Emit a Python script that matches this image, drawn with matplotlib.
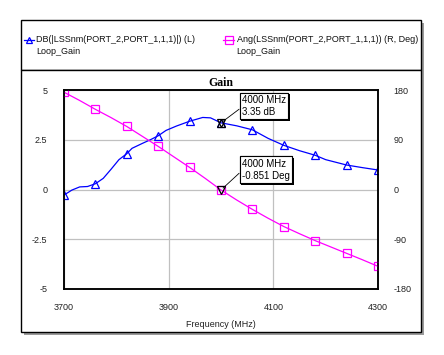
import numpy as np
import matplotlib
matplotlib.use('Agg')
import matplotlib.pyplot as plt
from matplotlib.patches import Rectangle
from matplotlib.lines import Line2D
import matplotlib.patheffects as pe

# gain curve, dB (left axis)
freq_db = [3700, 3715, 3730, 3745, 3760, 3775, 3790, 3805, 3820, 3830, 3850, 3865,
           3880, 3895, 3915, 3940, 3965, 3980, 4000, 4030, 4060, 4090, 4120, 4150,
           4180, 4200, 4240, 4270, 4300]
gain_db = [-0.28, -0.03, 0.13, 0.15, 0.29, 0.56, 1.02, 1.50, 1.80, 2.07, 2.32, 2.50,
           2.70, 2.97, 3.19, 3.43, 3.62, 3.60, 3.35, 3.20, 3.00, 2.57, 2.22, 1.95,
           1.72, 1.50, 1.23, 1.10, 0.98]

# phase curve, deg (right axis)
freq_ang = [3700, 3730, 3760, 3790, 3820, 3850, 3880, 3910, 3940, 3970, 4000,
            4030, 4060, 4090, 4120, 4150, 4180, 4210, 4240, 4270, 4300]
phase_deg = [176, 161, 145, 130, 114, 96, 78, 59, 40, 20, -0.851,
             -19, -36, -52, -67, -80, -92.5, -104, -115.5, -127, -139]

marker_freqs = [3700, 3760, 3820, 3880, 3940, 4000, 4060, 4120, 4180, 4240, 4300]
xticks = [3700, 3900, 4100, 4300]
yticks_l = [-5, -2.5, 0, 2.5, 5]
yticks_r = [-180, -90, 0, 90, 180]

cursor_f = 4000
cursor_db = 3.35
cursor_deg = -0.851

W, H = 444, 355
plt.rcParams['font.family'] = ['Liberation Sans', 'DejaVu Sans']
plt.rcParams['axes.unicode_minus'] = False


def fx(px):
    return px / W


def fy(py):
    return 1 - py / H


def box(fig, x0, y0, x1, y1):
    # framed panel with a grey drop shadow
    fig.add_artist(Rectangle((fx(x0 + 3), fy(y1 + 3)), fx(x1 - x0), (y1 - y0) / H,
                             transform=fig.transFigure, facecolor='#9a9a9a',
                             edgecolor='none', zorder=0))
    fig.add_artist(Rectangle((fx(x0), fy(y1)), fx(x1 - x0), (y1 - y0) / H,
                             transform=fig.transFigure, facecolor='white',
                             edgecolor='black', lw=1.0, zorder=0.5))


fig = plt.figure(figsize=(W / 100, H / 100), dpi=100)
box(fig, 21, 20, 421, 70)
box(fig, 21, 70, 421, 332)

ax = fig.add_axes([fx(64), fy(289), fx(378 - 64), (289 - 90) / H])
ax2 = ax.twinx()
ax.set_zorder(2)
ax2.set_zorder(3)
ax.patch.set_visible(False)
ax2.patch.set_visible(False)

blue = '#0000ff'
mag = '#ff00ff'

fd = np.array(freq_db)
fa = np.array(freq_ang)
ax.plot(fd, gain_db, color=blue, lw=0.9, marker='^', ms=5.5, mfc='none', mew=0.9,
        markevery=list(np.isin(fd, marker_freqs)))
ax2.plot(fa, phase_deg, color=mag, lw=0.9, marker='s', ms=6, mfc='none', mew=0.9,
         markevery=list(np.isin(fa, marker_freqs)))

# cursor markers
ax.plot([cursor_f], [cursor_db], marker='^', ms=5.5, mfc='none', mec='black', mew=0.9)
ax.plot([cursor_f], [cursor_db], marker='v', ms=5.5, mfc='none', mec='black', mew=0.9)
ax2.plot([cursor_f], [cursor_deg], marker='v', ms=5.5, mfc='none', mec='black', mew=0.9)

ax.set_xlim(3700, 4300)
ax.set_ylim(-5, 5)
ax2.set_ylim(-180, 180)
ax.set_xticks(xticks)
ax.set_yticks(yticks_l)
ax2.set_yticks(yticks_r)
ax.set_yticklabels(['-5', '-2.5', '0', '2.5', '5'])
ax.grid(True, color='#c0c0c0', lw=0.9)
ax.tick_params(length=0, labelsize=6.5, colors='#222222', pad=12)
ax.tick_params(axis='x', pad=10)
ax2.tick_params(length=0, labelsize=6.5, colors='#222222', pad=11)
for a in (ax, ax2):
    for s in a.spines.values():
        s.set_linewidth(1.1)
        s.set_color('black')

ax.set_title('Gain', family=['Liberation Serif'], fontweight='bold', fontsize=8.5, pad=3)
ax.set_xlabel('Frequency (MHz)', fontsize=6.5, color='#222222', labelpad=6)

# cursor readouts
for a, xy, txt, ty in [(ax, (cursor_f, cursor_db), '4000 MHz\n%.2f dB' % cursor_db, 4.75),
                       (ax2, (cursor_f, cursor_deg), '4000 MHz\n%.3f Deg' % cursor_deg, 56)]:
    an = a.annotate(txt, xy=xy, xytext=(4040, ty), ha='left', va='top', fontsize=7,
                    linespacing=1.25,
                    bbox=dict(boxstyle='square,pad=0.25', fc='white', ec='black', lw=0.8),
                    arrowprops=dict(arrowstyle='-', color='black', lw=0.6,
                                    relpos=(0, 0.45), shrinkA=0, shrinkB=2),
                    zorder=10)
    an.get_bbox_patch().set_path_effects([pe.withSimplePatchShadow(offset=(1.2, -1.2),
                                          shadow_rgbFace='black', alpha=1), pe.Normal()])

# legend
fig.add_artist(Line2D([fx(24), fx(34)], [fy(40), fy(40)], color=blue, lw=0.9))
fig.add_artist(Line2D([fx(29)], [fy(40)], color=blue, marker='^', ms=5, mfc='none', mew=0.9))
fig.text(fx(36), fy(40), 'DB(|LSSnm(PORT_2,PORT_1,1,1)|) (L)', fontsize=6.5,
         va='center', ha='left', color='#111111')
fig.text(fx(36), fy(51), 'Loop_Gain', fontsize=6.5, va='center', ha='left', color='#111111')
fig.add_artist(Line2D([fx(223), fx(234)], [fy(40), fy(40)], color=mag, lw=0.9))
fig.add_artist(Line2D([fx(228.5)], [fy(40)], color=mag, marker='s', ms=5.5, mfc='none', mew=0.9))
fig.text(fx(237), fy(40), 'Ang(LSSnm(PORT_2,PORT_1,1,1)) (R, Deg)', fontsize=6.5,
         va='center', ha='left', color='#111111')
fig.text(fx(236), fy(51), 'Loop_Gain', fontsize=6.5, va='center', ha='left', color='#111111')

fig.savefig('out.png', dpi=100)
